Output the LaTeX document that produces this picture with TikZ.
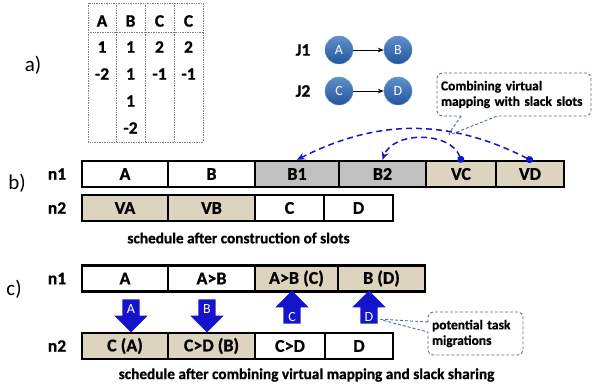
\documentclass[tikz,border=0pt]{standalone}
\usepackage{fontspec}
\setmainfont{Carlito}[BoldFont={Carlito Bold},BoldFeatures={FakeBold=0.8}]
\usetikzlibrary{arrows.meta,shapes.arrows,shapes.callouts}
\definecolor{slackfill}{RGB}{221,212,192}
\definecolor{busyfill}{RGB}{192,192,192}
\definecolor{migblue}{RGB}{20,20,205}
\definecolor{notegray}{RGB}{84,112,148}
\definecolor{balltop}{RGB}{95,145,205}
\definecolor{ballbot}{RGB}{35,85,155}
\begin{document}
\begin{tikzpicture}[x=1pt,y=1pt]
    \tikzstyle{slot} = [draw,line width=2.4pt,inner sep=0pt,minimum height=26pt,font=\fontsize{18}{20}\selectfont\bfseries]
    \tikzstyle{slack} = [slot,fill=slackfill]
    \tikzstyle{busy} = [slot,fill=busyfill]
    \tikzstyle{free} = [slot,fill=white]
    \tikzstyle{bold} = [font=\fontsize{17.5}{20}\selectfont\bfseries]
    \tikzstyle{part} = [font=\fontsize{21}{24}\selectfont]
    \tikzstyle{caption} = [font=\fontsize{15.3}{18}\selectfont\bfseries]
    \tikzstyle{task} = [circle,minimum size=28pt,inner sep=0pt,top color=balltop,bottom color=ballbot,draw=balltop,text=white,font=\fontsize{14}{16}\selectfont]
    \tikzstyle{mig} = [single arrow,fill=migblue,minimum height=33pt,minimum width=33pt,single arrow head extend=8pt,inner sep=8.5pt]
    \tikzstyle{migtext} = [text=white,font=\fontsize{14}{16}\selectfont]
    \tikzstyle{virt} = [migblue,dashed,dash pattern=on 6pt off 4pt,line width=1.5pt,{Circle[length=7pt]}-{Stealth[length=8pt,width=7pt]},shorten <=-3pt]
    \tikzstyle{note} = [rectangle callout,draw=notegray,dash pattern=on 3pt off 2pt,line width=0.9pt,rounded corners=5pt,align=left,inner xsep=4pt,font=\fontsize{13.5}{15.5}\selectfont\bfseries]
    \tikzstyle{gridline} = [gray,densely dotted,line width=0.7pt]
    \useasboundingbox (0,0) rectangle (592,-391);
    % a) task table and jobs
    \node[part] (pa) at (33,-65) {a)};
    \draw[gridline] (88,-3) rectangle (203,-142);
    \draw[gridline] (116,-3) -- (116,-142);
    \draw[gridline] (145,-3) -- (145,-142);
    \draw[gridline] (174,-3) -- (174,-142);
    \draw[gridline] (88,-32) -- (203,-32);
    \node[bold] (ha) at (102,-21) {A};
    \node[bold] (hb) at (130.5,-21) {B};
    \node[bold] (hc) at (159.5,-21) {C};
    \node[bold] (hd) at (188.5,-21) {C};
    \node[bold] (a1) at (102,-47) {1};
    \node[bold] (a2) at (102,-74) {-2};
    \node[bold] (b1v) at (130.5,-47) {1};
    \node[bold] (b2v) at (130.5,-74) {1};
    \node[bold] (b3v) at (130.5,-101) {1};
    \node[bold] (b4v) at (130.5,-128) {-2};
    \node[bold] (c1) at (159.5,-47) {2};
    \node[bold] (c2) at (159.5,-74) {-1};
    \node[bold] (d1) at (188.5,-47) {2};
    \node[bold] (d2) at (188.5,-74) {-1};
    \node[bold] (j1) at (303,-50) {J1};
    \node[bold] (j2) at (303,-91) {J2};
    \node[task] (ta) at (339,-50) {A};
    \node[task] (tb) at (398,-50) {B};
    \node[task] (tc) at (339,-91) {C};
    \node[task] (td) at (398,-91) {D};
    \draw[-{Stealth[length=6pt]},line width=0.9pt] (ta) -- (tb);
    \draw[-{Stealth[length=6pt]},line width=0.9pt] (tc) -- (td);
    % b) slots
    \node[part] (pb) at (17,-183.5) {b)};
    \node[bold] (bn1) at (57,-174) {n1};
    \node[bold] (bn2) at (57,-208) {n2};
    \node[free,minimum width=86pt] (ba) at (125,-174) {A};
    \node[free,minimum width=87pt] (bb) at (211.5,-174) {B};
    \node[busy,minimum width=84pt] (b1) at (297,-174) {B1};
    \node[busy,minimum width=87pt] (b2) at (382.5,-174) {B2};
    \node[slack,minimum width=70pt] (vc) at (461,-174) {VC};
    \node[slack,minimum width=68pt] (vd) at (530,-174) {VD};
    \node[slack,minimum width=86pt] (va) at (125,-208) {VA};
    \node[slack,minimum width=87pt] (vb) at (211.5,-208) {VB};
    \node[free,minimum width=69pt] (bc) at (289.5,-208) {C};
    \node[free,minimum width=69pt] (bd) at (358.5,-208) {D};
    \node[caption] (capb) at (238.5,-238) {schedule after construction of slots};
    \draw[virt] (vc.north) to[out=110,in=70] (b2.north);
    \draw[virt] (vd.north) to[out=153,in=27] (b1.north);
    \node[note,minimum width=154pt,minimum height=43pt,text width=146pt,callout absolute pointer={(447,-136)},callout pointer width=36pt] (combine) at (514,-94.5) {Combining virtual\\mapping with slack slots};
    % c) migrations
    \node[part] (pc) at (14,-289) {c)};
    \node[bold] (cn1) at (57,-278.5) {n1};
    \node[bold] (cn2) at (57,-346) {n2};
    \node[free,minimum width=86pt] (ca) at (125,-278.5) {A};
    \node[free,minimum width=87pt] (cab) at (211.5,-278.5) {A>B};
    \node[slack,minimum width=83pt] (cabc) at (296.5,-278.5) {A>B (C)};
    \node[slack,minimum width=87pt] (cbd) at (381.5,-278.5) {B (D)};
    \node[slack,minimum width=86pt] (cca) at (125,-346) {C (A)};
    \node[slack,minimum width=87pt] (ccdb) at (211.5,-346) {C>D (B)};
    \node[free,minimum width=70pt] (ccd) at (290,-346) {C>D};
    \node[free,minimum width=68pt] (cd) at (359,-346) {D};
    \node[mig,shape border rotate=270] (ma) at (131,-311.5) {};
    \node[mig,shape border rotate=270] (mb) at (207,-311.5) {};
    \node[mig,shape border rotate=90] (mc) at (292,-311.5) {};
    \node[mig,shape border rotate=90] (md) at (369,-311.5) {};
    \node[migtext] (la) at (131,-309) {A};
    \node[migtext] (lb) at (207,-309) {B};
    \node[migtext] (lc) at (292,-317) {C};
    \node[migtext] (ld) at (369,-317) {D};
    \node[note,minimum width=95pt,minimum height=43pt,text width=87pt,callout absolute pointer={(378,-319)},callout pointer width=10pt] (potential) at (475.5,-333.5) {potential task\\migrations};
    \node[caption] (capc) at (306.5,-375) {schedule after combining virtual mapping and slack sharing};
\end{tikzpicture}
\end{document}
